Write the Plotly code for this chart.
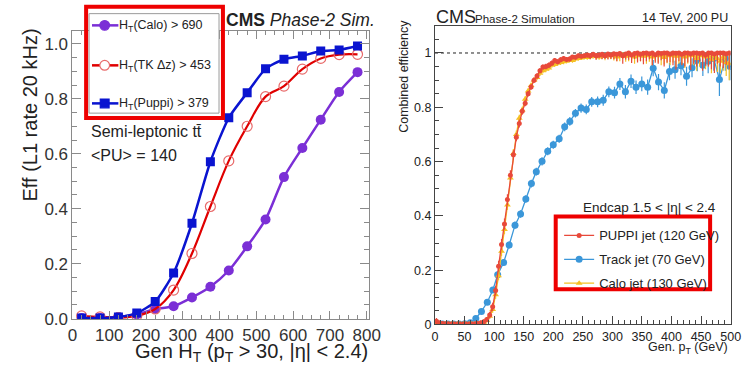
import plotly.graph_objects as go

W, H = 749, 365
FONT = "Liberation Sans, Arial, Helvetica, sans-serif"

# ---------------- Left panel data (HT efficiency) ----------------
ht_bins = [25, 75, 125, 175, 225, 275, 325, 375, 425, 475, 525, 575, 625, 675, 725, 775]
eff_calo = [0.002, 0.002, 0.006, 0.015, 0.035, 0.045, 0.077, 0.116, 0.175, 0.263, 0.361, 0.515,
            0.621, 0.724, 0.825, 0.897]
eff_tk = [0.010, 0.006, 0.004, 0.010, 0.035, 0.104, 0.237, 0.408, 0.574, 0.700, 0.808, 0.846,
          0.908, 0.947, 0.961, 0.962]
eff_puppi = [0.002, 0.002, 0.006, 0.020, 0.062, 0.166, 0.347, 0.571, 0.731, 0.822, 0.909, 0.944,
             0.956, 0.974, 0.978, 0.992]
left_names = ["H<sub>T</sub>(Calo) > 690", "H<sub>T</sub>(TK \u0394z) > 453", "H<sub>T</sub>(Puppi) > 379"]
left_yticks = [0.0, 0.2, 0.4, 0.6, 0.8, 1.0]
left_xticks = [0, 100, 200, 300, 400, 500, 600, 700, 800]

# ---------------- Right panel data (jet efficiency) ----------------
pt_fine = [2.5 + 5 * i for i in range(100)]  # 5 GeV bin centres
eff_puppi_jet = [
    0.012, 0.006, 0.004, 0.003, 0.003, 0.002, 0.002, 0.002, 0.002, 0.002, 0.002, 0.002, 0.002, 0.003, 0.004, 0.006,
    0.010, 0.018, 0.035, 0.065, 0.125, 0.215, 0.295, 0.37, 0.46, 0.55, 0.625, 0.69, 0.74, 0.785, 0.815,
    0.85, 0.875, 0.9, 0.915, 0.935, 0.948, 0.95, 0.955, 0.962, 0.972, 0.968, 0.975, 0.98, 0.976, 0.978,
    0.985, 0.984, 0.99, 0.988, 0.99,
    0.993, 0.99, 0.995, 0.99, 0.993, 0.995, 0.99, 0.996, 0.993, 0.997, 0.995, 0.998, 0.99, 0.996, 1.0,
    0.993, 0.998, 1.0, 0.995, 0.999, 1.0, 0.997, 1.0, 0.994, 1.0, 0.998, 1.0, 1.0, 0.996, 1.0, 0.999,
    1.0, 0.995, 1.0, 1.0, 0.997, 1.0, 1.0, 0.998, 1.0, 0.993, 1.0, 1.0, 0.996, 1.0, 1.0, 1.0, 0.997, 1.0]
err_puppi_jet = [
    0.012, 0.004, 0.004, 0.004, 0.004, 0.004, 0.004, 0.004, 0.004, 0.004, 0.004, 0.004, 0.004, 0.004, 0.004, 0.004,
    0.008, 0.01, 0.012, 0.015, 0.018, 0.02, 0.02, 0.02, 0.02, 0.018, 0.017, 0.015, 0.014, 0.012, 0.011,
    0.01, 0.01, 0.01, 0.01, 0.01, 0.01, 0.01, 0.01, 0.01, 0.01, 0.009, 0.009, 0.009, 0.009, 0.009,
    0.008, 0.008, 0.008, 0.008, 0.008,
    0.01, 0.012, 0.01, 0.015, 0.012, 0.018, 0.012, 0.02, 0.015, 0.02, 0.025, 0.015, 0.03, 0.02, 0.025,
    0.03, 0.02, 0.035, 0.025, 0.04, 0.03, 0.02, 0.045, 0.03, 0.04, 0.025, 0.05, 0.035, 0.03, 0.045, 0.06,
    0.03, 0.04, 0.05, 0.035, 0.06, 0.04, 0.05, 0.03, 0.065, 0.04, 0.05, 0.06, 0.07, 0.04, 0.05, 0.055, 0.04, 0.06]
eff_calo_jet = [
    0.004, 0.003, 0.002, 0.002, 0.002, 0.002, 0.002, 0.002, 0.002, 0.002, 0.002, 0.002, 0.002, 0.002, 0.003, 0.005,
    0.008, 0.015, 0.03, 0.055, 0.11, 0.18, 0.27, 0.35, 0.44, 0.54, 0.63, 0.70, 0.76, 0.79, 0.83,
    0.86, 0.88, 0.90, 0.91, 0.925, 0.935, 0.94, 0.945, 0.955, 0.958, 0.962, 0.965, 0.968, 0.97, 0.975,
    0.972, 0.978, 0.98, 0.982, 0.985,
    0.983, 0.986, 0.99, 0.988, 0.985, 0.99, 0.988, 0.99, 0.992, 0.99, 0.985, 0.99, 0.993, 0.988, 0.99,
    0.992, 0.985, 0.99, 0.995, 0.988, 0.99, 0.993, 0.985, 0.99, 0.995, 0.99, 0.983, 0.992, 0.99, 0.995, 0.988,
    0.99, 0.993, 0.985, 0.99, 0.995, 0.99, 0.98, 0.99, 0.993, 0.985, 0.99, 0.975, 0.99, 0.98, 0.97, 0.985, 0.965, 0.96]
err_calo_jet = [
    0.004, 0.003, 0.003, 0.003, 0.003, 0.003, 0.003, 0.003, 0.003, 0.003, 0.003, 0.003, 0.003, 0.003, 0.003, 0.004,
    0.006, 0.008, 0.01, 0.012, 0.015, 0.017, 0.018, 0.018, 0.018, 0.017, 0.016, 0.015, 0.013, 0.012, 0.011,
    0.01, 0.01, 0.01, 0.01, 0.01, 0.01, 0.01, 0.009, 0.009, 0.009, 0.009, 0.009, 0.009, 0.008, 0.008,
    0.008, 0.008, 0.008, 0.008, 0.008,
    0.008, 0.01, 0.01, 0.012, 0.01, 0.012, 0.015, 0.012, 0.015, 0.018, 0.015, 0.02, 0.015, 0.02, 0.02,
    0.02, 0.025, 0.02, 0.025, 0.02, 0.03, 0.025, 0.03, 0.02, 0.03, 0.035, 0.025, 0.03, 0.035, 0.03, 0.04,
    0.03, 0.035, 0.04, 0.03, 0.04, 0.035, 0.045, 0.04, 0.035, 0.045, 0.04, 0.05, 0.04, 0.05, 0.045, 0.05, 0.05, 0.06]

pt_track = [3.2, 12.6, 22, 31.4, 40.8, 50.2, 59.6,
            69, 78.5, 88.4, 97.8, 106, 116, 125.4, 135.3, 144.7, 153.6,
            163, 171.3, 181, 190.6, 200, 210, 219.3, 228, 237.5, 247,
            255.8, 265, 275, 284.5, 294, 303.6, 312.7, 322, 331.5, 340,
            349.7, 359.6, 369, 378, 387.8, 396.6, 406, 416, 425.4, 434.7,
            443.6, 453, 462, 471.5, 481, 491, 499]
eff_track_jet = [0.003, 0.002, 0.002, 0.002, 0.002, 0.003, 0.006,
                 0.022, 0.048, 0.082, 0.127, 0.183, 0.228, 0.293, 0.366, 0.407, 0.462,
                 0.519, 0.563, 0.601, 0.638, 0.662, 0.684, 0.728, 0.748, 0.778, 0.797,
                 0.792, 0.82, 0.82, 0.826, 0.857, 0.854, 0.886, 0.857, 0.896, 0.874,
                 0.886, 0.874, 0.944, 0.893, 0.862, 0.932, 0.938, 0.953, 0.914, 0.946,
                 0.973, 0.955, 0.97, 0.98, 0.902, 0.98, 0.95]
err_track_jet = [0.003, 0.003, 0.003, 0.003, 0.003, 0.003, 0.003,
                 0.006, 0.008, 0.01, 0.01, 0.012, 0.012, 0.013, 0.013, 0.014, 0.014,
                 0.014, 0.014, 0.015, 0.015, 0.015, 0.015, 0.016, 0.016, 0.016, 0.017,
                 0.018, 0.018, 0.02, 0.02, 0.02, 0.022, 0.022, 0.025, 0.025, 0.025,
                 0.027, 0.028, 0.03, 0.03, 0.03, 0.032, 0.033, 0.035, 0.035, 0.035,
                 0.04, 0.04, 0.045, 0.045, 0.06, 0.045, 0.05]
right_names = ["PUPPI jet (120 GeV)", "Track jet (70 GeV)", "Calo jet (130 GeV)"]
right_yticks = [0, 0.2, 0.4, 0.6, 0.8, 1]
right_ytext = ["0", "0.2", "0.4", "0.6", "0.8", "1"]


def fx(p):  # pixel -> paper x
    return p / W


def fy(p):  # pixel -> paper y
    return 1 - p / H


def up_err(vals, errs):
    return [min(e, max(0.0, 1.0 - v)) for v, e in zip(vals, errs)]


fig = go.Figure()

# ---- left traces ----
C_CALO, C_TK, C_TKM, C_PUPPI = "#7b2fd6", "#e00000", "#e86a6a", "#0a14d0"
fig.add_trace(go.Scatter(
    x=ht_bins, y=eff_calo, name=left_names[0], mode="lines+markers",
    line=dict(color=C_CALO, width=2.5, shape="spline", smoothing=0.8),
    marker=dict(symbol="circle", size=10, color=C_CALO),
    xaxis="x", yaxis="y", showlegend=False))
fig.add_trace(go.Scatter(
    x=ht_bins, y=eff_tk, name=left_names[1], mode="lines+markers",
    line=dict(color=C_TK, width=2.2, shape="spline", smoothing=1.0),
    marker=dict(symbol="circle-open", size=10, color=C_TKM, line=dict(width=1.2)),
    xaxis="x", yaxis="y", showlegend=False))
fig.add_trace(go.Scatter(
    x=ht_bins, y=eff_puppi, name=left_names[2], mode="lines+markers",
    line=dict(color=C_PUPPI, width=2.5, shape="spline", smoothing=0.6),
    marker=dict(symbol="square", size=9, color=C_PUPPI),
    xaxis="x", yaxis="y", showlegend=False))

# ---- right traces ----
C_RED, C_BLUE, C_YEL = "#e8493a", "#3b97d9", "#f5c023"
fig.add_trace(go.Scatter(
    x=pt_track, y=eff_track_jet, name=right_names[1], mode="lines+markers",
    line=dict(color=C_BLUE, width=1.3),
    marker=dict(symbol="circle", size=7, color=C_BLUE),
    error_y=dict(type="data", symmetric=False, array=up_err(eff_track_jet, err_track_jet),
                 arrayminus=err_track_jet, color=C_BLUE, thickness=1.2, width=0),
    error_x=dict(type="constant", value=4.7, color=C_BLUE, thickness=1.2, width=0),
    xaxis="x2", yaxis="y2", legend="legend2", legendgroup="r2", legendrank=2))
fig.add_trace(go.Scatter(
    x=pt_fine, y=eff_calo_jet, name=right_names[2], mode="lines+markers",
    line=dict(color=C_YEL, width=1.3),
    marker=dict(symbol="triangle-up", size=6, color=C_YEL),
    error_y=dict(type="data", symmetric=False, array=up_err(eff_calo_jet, err_calo_jet),
                 arrayminus=err_calo_jet, color=C_YEL, thickness=1.2, width=0),
    xaxis="x2", yaxis="y2", legend="legend2", legendgroup="r3", legendrank=3))
fig.add_trace(go.Scatter(
    x=pt_fine, y=eff_puppi_jet, name=right_names[0], mode="lines+markers",
    line=dict(color=C_RED, width=1.3),
    marker=dict(symbol="circle", size=5, color=C_RED),
    error_y=dict(type="data", symmetric=False, array=up_err(eff_puppi_jet, err_puppi_jet),
                 arrayminus=err_puppi_jet, color=C_RED, thickness=1.2, width=0),
    xaxis="x2", yaxis="y2", legend="legend2", legendgroup="r1", legendrank=1))

# dashed reference line at efficiency 1
fig.add_shape(type="line", xref="x2", yref="y2", x0=0, x1=500, y0=1, y1=1,
              line=dict(color="#222", width=1, dash="dot"), layer="below")

# ---- axes ----
gray = "#8a8a8a"
fig.update_layout(
    xaxis=dict(domain=[fx(69), fx(372)], range=[0, 805], tickvals=left_xticks,
               ticks="inside", ticklen=8, tickcolor=gray, tickwidth=1,
               minor=dict(dtick=25, ticks="inside", ticklen=4, tickcolor=gray),
               showline=True, linecolor=gray, linewidth=1, mirror="ticks",
               showgrid=False, zeroline=False, anchor="y",
               tickfont=dict(family=FONT, size=17, color="#333")),
    yaxis=dict(domain=[fy(327.5), fy(32)], range=[-0.003, 1.046], tickvals=left_yticks,
               tickformat=".1f", ticks="inside", ticklen=9, tickcolor=gray,
               minor=dict(dtick=0.05, ticks="inside", ticklen=5, tickcolor=gray),
               showline=True, linecolor=gray, linewidth=1, mirror="ticks",
               showgrid=False, zeroline=False, anchor="x",
               tickfont=dict(family=FONT, size=17, color="#333")),
    xaxis2=dict(domain=[fx(440), fx(742.5)], range=[0, 500], dtick=50, tick0=0,
                ticks="inside", ticklen=8, tickcolor="#444",
                minor=dict(dtick=10, ticks="inside", ticklen=4, tickcolor="#444"),
                showline=True, linecolor="#444", linewidth=1, mirror=True,
                showgrid=False, zeroline=False, anchor="y2", ticklabelstandoff=1,
                tickfont=dict(family=FONT, size=12.5, color="#222")),
    yaxis2=dict(domain=[fy(332.7), fy(26.5)], range=[0, 1.1], tickvals=right_yticks,
                ticktext=right_ytext, ticks="inside", ticklen=8, tickcolor="#444",
                minor=dict(dtick=0.05, ticks="inside", ticklen=4, tickcolor="#444"),
                showline=True, linecolor="#444", linewidth=1, mirror=True,
                showgrid=False, zeroline=False, anchor="x2",
                tickfont=dict(family=FONT, size=12.5, color="#222")),
)

# ---- right legend (plotly legend) ----
fig.update_layout(
    legend2=dict(x=fx(567), y=fy(226), xanchor="left", yanchor="top",
                 bgcolor="rgba(0,0,0,0)", borderwidth=0,
                 font=dict(family=FONT, size=13, color="#222"),
                 tracegroupgap=4, itemwidth=30),
)

# ---- left legend box (drawn as a key, like the ROOT TLegend) ----
shapes = []
shapes.append(dict(type="rect", xref="paper", yref="paper", x0=fx(86), x1=fx(219), y0=fy(116), y1=fy(14),
                   line=dict(color="#9a9a9a", width=1), fillcolor="white", layer="above"))
key_rows = [26, 67, 106]
key_styles = [(C_CALO, "circle", C_CALO, C_CALO), (C_TK, "circle", "white", C_TKM),
              (C_PUPPI, "rect", C_PUPPI, C_PUPPI)]
for row, (lc, kind, fill, edge) in zip(key_rows, key_styles):
    shapes.append(dict(type="line", xref="paper", yref="paper", x0=fx(89), x1=fx(116),
                       y0=fy(row), y1=fy(row), line=dict(color=lc, width=2.5), layer="above"))
    r = 5 if kind == "circle" else 4.5
    shapes.append(dict(type=kind, xref="paper", yref="paper", x0=fx(102 - r), x1=fx(102 + r),
                       y0=fy(row + r), y1=fy(row - r), fillcolor=fill,
                       line=dict(color=edge, width=1.2), layer="above"))

# ---- texts ----
ann = []


def text(x, y, s, size, xanchor="left", yanchor="middle", angle=0, color="#222", family=FONT):
    ann.append(dict(x=fx(x), y=fy(y), xref="paper", yref="paper", text=s, showarrow=False,
                    xanchor=xanchor, yanchor=yanchor, textangle=angle,
                    font=dict(family=family, size=size, color=color)))


for row, name in zip(key_rows, left_names):
    text(115, row + 1, name, 12.5)

text(224, 21, "<b>CMS</b> <i>Phase-2 Sim.</i>", 17.5)
text(86, 135, "Semi-leptonic tt\u0304", 16)
text(86, 159, "&lt;PU&gt; = 140", 16)
text(26, 118, "Eff (L1 rate 20 kHz)", 20, xanchor="center", angle=-90)
text(373, 361, "Gen H<sub>T</sub> (p<sub>T</sub> > 30, |\u03b7| < 2.4)", 20, xanchor="right")

text(439, 17, "CMS", 18)
text(479, 19, "Phase-2 Simulation", 11.5)
text(742, 18, "14 TeV, 200 PU", 12.5, xanchor="right")
text(408, 78, "Combined efficiency", 12.5, xanchor="center", angle=-90)
text(742, 357, "Gen. p<sub>T</sub> (GeV)", 12.5, xanchor="right")
text(589, 213, "Endcap 1.5 < |\u03b7| < 2.4", 13.5)

# ---- red highlight boxes ----
shapes.append(dict(type="rect", xref="paper", yref="paper", x0=fx(83), x1=fx(223), y0=fy(121), y1=fy(7),
                   line=dict(color="#ee0000", width=4), layer="above"))
shapes.append(dict(type="rect", xref="paper", yref="paper", x0=fx(563.5), x1=fx(721.5), y0=fy(296.5),
                   y1=fy(222), line=dict(color="#ee0000", width=4), layer="above"))

for s in shapes:
    fig.add_shape(**s)
fig.update_layout(annotations=ann)

fig.update_layout(width=W, height=H, autosize=False, margin=dict(l=0, r=0, t=0, b=0),
                  paper_bgcolor="white", plot_bgcolor="white", showlegend=True,
                  font=dict(family=FONT))

fig.write_html("out.html")
